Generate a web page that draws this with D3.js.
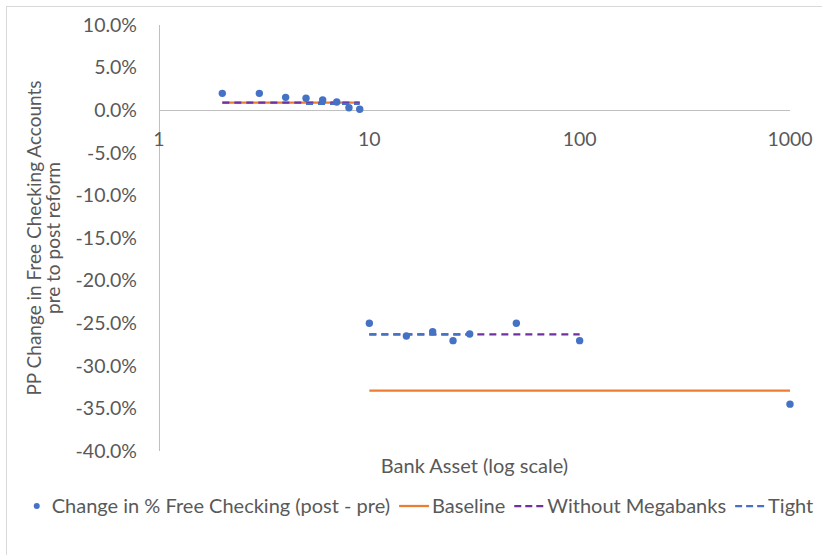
<!DOCTYPE html>
<html>
<head>
<meta charset="utf-8">
<script src="https://cdn.jsdelivr.net/npm/d3@7"></script>
<style>
	body { margin: 0; background: #ffffff; }
	text { font-family: Lato, 'Open Sans', sans-serif; fill: #595959; }
</style>
</head>
<body>
<svg id="chart" width="822" height="555"></svg>
<script>
// 자산 규모별 데이터 (log x)
const assetX = [2, 3, 4, 5, 6, 7, 8, 9, 10, 15, 20, 25, 30, 50, 100, 1000];
const changePct = [1.98, 1.98, 1.51, 1.40, 1.20, 0.96, 0.29, 0.11, -25.0, -26.5, -26.0, -27.05, -26.27, -25.0, -27.05, -34.5];

// 추세선 구간: [x 시작, x 끝, y]
const baselineSeg = [[2, 9, 0.88], [10, 1000, -32.9]];
const megabankSeg = [[2, 9, 0.88], [10, 100, -26.3]];
const tightSeg = [[5, 9, 0.75], [10, 30, -26.3]];

const xTicks = [1, 10, 100, 1000];
const yTicks = [10, 5, 0, -5, -10, -15, -20, -25, -30, -35, -40];

const seriesNames = ['Change in % Free Checking (post - pre)', 'Baseline', 'Without Megabanks', 'Tight'];

const svg = d3.select('#chart');

// 바깥 테두리
svg.append('rect')
	.attr('x', 6.5).attr('y', 6.5)
	.attr('width', 840).attr('height', 570)
	.style('fill', 'none')
	.style('stroke', '#d9d9d9');

const x = d3.scaleLog().domain([1, 1000]).range([159, 790]);
const y = d3.scaleLinear().domain([-40, 10]).range([451, 25]);

// y축 라인 (x = 1)
svg.append('line')
	.attr('x1', x(1) + 0.5).attr('x2', x(1) + 0.5)
	.attr('y1', y(10)).attr('y2', y(-40))
	.style('stroke', '#bfbfbf');

// x축 라인 (y = 0)
svg.append('line')
	.attr('x1', x(1)).attr('x2', x(1000))
	.attr('y1', Math.round(y(0)) + 0.5).attr('y2', Math.round(y(0)) + 0.5)
	.style('stroke', '#bfbfbf');

// y 눈금 라벨
svg.append('g')
	.selectAll('text')
	.data(yTicks)
	.join('text')
	.attr('x', 137)
	.attr('y', d => y(d))
	.attr('dy', '.35em')
	.attr('font-size', '19.5px')
	.style('text-anchor', 'end')
	.text(d => d.toFixed(1) + '%');

// x 눈금 라벨
svg.append('g')
	.selectAll('text')
	.data(xTicks)
	.join('text')
	.attr('x', d => x(d))
	.attr('y', y(0) + 29)
	.attr('dy', '.35em')
	.attr('font-size', '19.5px')
	.style('text-anchor', 'middle')
	.text(d => d);

// 축 제목
svg.append('text')
	.attr('x', (x(1) + x(1000)) / 2)
	.attr('y', 466)
	.attr('dy', '.35em')
	.attr('font-size', '20px')
	.style('text-anchor', 'middle')
	.text('Bank Asset (log scale)');

const yTitle = svg.append('text')
	.attr('transform', 'translate(34,' + ((y(10) + y(-40)) / 2) + ') rotate(-90)')
	.attr('font-size', '19px')
	.style('text-anchor', 'middle');
yTitle.append('tspan').attr('x', 0).attr('dy', '.35em').text('PP Change in Free Checking Accounts');
yTitle.append('tspan').attr('x', 0).attr('dy', '19px').text('pre to post reform');

// 추세선 그리기
function drawSeg(segs, color, dash) {
	svg.append('g')
		.selectAll('line')
		.data(segs)
		.join('line')
		.attr('x1', d => x(d[0])).attr('x2', d => x(d[1]))
		.attr('y1', d => y(d[2])).attr('y2', d => y(d[2]))
		.style('stroke', color)
		.style('stroke-width', 2.25)
		.style('stroke-dasharray', dash);
}
drawSeg(baselineSeg, '#ed7d31', null);
drawSeg(megabankSeg, '#7030a0', '7,5');
drawSeg(tightSeg, '#4472c4', '7,5');

// 산점도
svg.append('g')
	.selectAll('circle')
	.data(assetX)
	.join('circle')
	.attr('cx', d => x(d))
	.attr('cy', (d, i) => y(changePct[i]))
	.attr('r', 3.7)
	.style('fill', '#4472c4');

// 범례
const legend = svg.append('g').attr('transform', 'translate(0,506)');
const styles = [
	{ type: 'dot', color: '#4472c4' },
	{ type: 'line', color: '#ed7d31', dash: null },
	{ type: 'line', color: '#7030a0', dash: '7,4' },
	{ type: 'line', color: '#4472c4', dash: '7,4' }
];
let cx = 0;
seriesNames.forEach(function(name, i) {
	const g = legend.append('g');
	const st = styles[i];
	let w;
	if(st.type === 'dot') {
		g.append('circle').attr('cx', 4).attr('cy', 0).attr('r', 3).style('fill', st.color);
		w = 19;
	} else {
		g.append('line')
			.attr('x1', 0).attr('x2', 30).attr('y1', 0).attr('y2', 0)
			.style('stroke', st.color)
			.style('stroke-width', 2.25)
			.style('stroke-dasharray', st.dash);
		w = 33;
	}
	const t = g.append('text')
		.attr('x', w)
		.attr('dy', '.35em')
		.attr('font-size', '20px')
		.text(name);
	g.attr('transform', 'translate(' + cx + ',0)');
	cx += w + t.node().getComputedTextLength() + 9;
});
// 가운데 정렬
const total = cx - 9;
legend.attr('transform', 'translate(' + (423 - total / 2) + ',506)');
</script>
</body>
</html>
